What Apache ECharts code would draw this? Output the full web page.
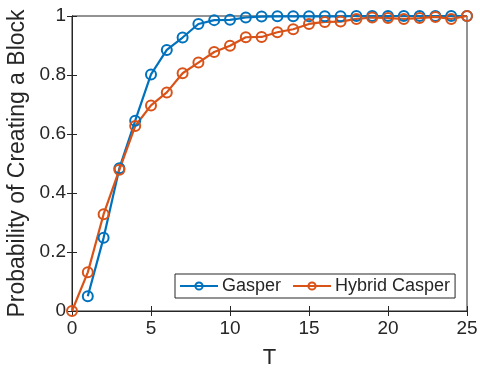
<!DOCTYPE html>
<html>
<head>
<meta charset="utf-8">
<script src="https://cdn.jsdelivr.net/npm/echarts@6/dist/echarts.min.js"></script>
<style>html,body{margin:0;padding:0;background:#fff;}#chart{width:480px;height:371px;}</style>
</head>
<body>
<div id="chart"></div>
<script>
// T values and probabilities
const tValues = [0,1,2,3,4,5,6,7,8,9,10,11,12,13,14,15,16,17,18,19,20,21,22,23,24,25];
const gasper = [null,0.05,0.248,0.484,0.645,0.802,0.885,0.927,0.973,0.986,0.987,0.995,0.998,0.999,0.999,0.999,0.999,0.999,1,1,1,1,1,1,1,1];
const hybridCasper = [0,0.131,0.328,0.479,0.627,0.697,0.741,0.806,0.842,0.878,0.899,0.928,0.929,0.945,0.955,0.973,0.98,0.981,0.99,0.995,0.993,0.99,0.993,0.997,0.99,1];
const xTicks = [0,5,10,15,20,25];
const yTicks = [0,0.2,0.4,0.6,0.8,1];

const font = 'Liberation Sans, Arial, sans-serif';
const chart = echarts.init(document.getElementById('chart'));

const pair = arr => tValues.map((t, i) => arr[i] == null ? null : [t, arr[i]]).filter(d => d);

const mkSeries = (name, data, color) => ({
  name, type: 'line', data,
  symbol: 'circle', symbolSize: 10, showSymbol: true,
  lineStyle: { color, width: 2.2 },
  itemStyle: { color: 'rgba(255,255,255,0)', borderColor: color, borderWidth: 2 },
  emphasis: { disabled: true },
  animation: false
});

chart.setOption({
  backgroundColor: '#fff',
  grid: { left: 72, right: 13, top: 16, bottom: 60, show: true, borderColor: '#262626', borderWidth: 1,
    containLabel: false, outerBoundsMode: 'none' },
  legend: {
    left: 175, top: 274,
    data: ['Gasper', 'Hybrid Casper'],
    itemWidth: 38, itemHeight: 9, itemGap: 11,
    padding: [3, 5, 3, 4],
    borderColor: '#262626', borderWidth: 1, borderRadius: 0,
    backgroundColor: '#fff',
    textStyle: { fontFamily: font, fontSize: 18, color: '#262626', padding: [0, 0, 0, -1] }
  },
  xAxis: [{
    type: 'value', min: 0, max: 25, interval: 5,
    name: 'T', nameLocation: 'middle', nameGap: 36,
    nameTextStyle: { fontFamily: font, fontSize: 22, color: '#262626' },
    axisLine: { show: true, lineStyle: { color: '#262626' } },
    axisTick: { show: true, inside: true, length: 5, lineStyle: { color: '#262626' } },
    axisLabel: { fontFamily: font, fontSize: 19, color: '#262626', margin: 8,
      formatter: v => xTicks.includes(v) ? String(v) : '' },
    splitLine: { show: false }
  }, {
    type: 'value', min: 0, max: 25, interval: 5, position: 'top',
    axisLine: { show: true, lineStyle: { color: '#262626' } },
    axisTick: { show: true, inside: true, length: 5, lineStyle: { color: '#262626' } },
    axisLabel: { show: false }, splitLine: { show: false }
  }],
  yAxis: [{
    type: 'value', min: 0, max: 1, interval: 0.2,
    name: 'Probability of Creating a Block', nameLocation: 'middle', nameGap: 41,
    nameTextStyle: { fontFamily: font, fontSize: 23, color: '#262626' },
    axisLine: { show: true, lineStyle: { color: '#262626' } },
    axisTick: { show: true, inside: true, length: 5, lineStyle: { color: '#262626' } },
    axisLabel: { fontFamily: font, fontSize: 19, color: '#262626', margin: 6,
      formatter: v => { const t = yTicks.find(y => Math.abs(y - v) < 1e-6); return t === undefined ? '' : String(t); } },
    splitLine: { show: false }
  }, {
    type: 'value', min: 0, max: 1, interval: 0.2, position: 'right',
    axisLine: { show: true, lineStyle: { color: '#262626' } },
    axisTick: { show: true, inside: true, length: 5, lineStyle: { color: '#262626' } },
    axisLabel: { show: false }, splitLine: { show: false }
  }],
  series: [
    mkSeries('Gasper', pair(gasper), '#0072BD'),
    mkSeries('Hybrid Casper', pair(hybridCasper), '#D95319')
  ]
});
</script>
</body>
</html>
